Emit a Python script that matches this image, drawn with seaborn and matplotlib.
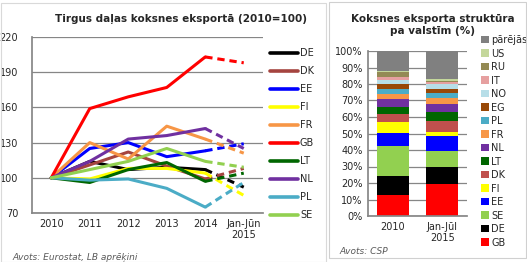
import pandas as pd
import matplotlib
matplotlib.use("Agg")
import matplotlib.pyplot as plt
from matplotlib.patches import Rectangle
import seaborn as sns

# --- data: market share index (2010=100)
periods = ["2010", "2011", "2012", "2013", "2014", "Jan-Jūn\n2015"]
countries = ["DE", "DK", "EE", "FI", "FR", "GB", "LT", "NL", "PL", "SE"]
de = [100, 114, 107, 109, 107, 92]
dk = [100, 111, 122, 110, 99, 108]
ee = [100, 125, 130, 118, 123, 129]
fi = [100, 99, 108, 108, 104, 85]
fr = [100, 130, 116, 144, 133, 121]
gb = [100, 159, 169, 177, 203, 198]
lt = [100, 96, 107, 113, 97, 104]
nl = [100, 114, 133, 136, 142, 125]
pl = [100, 98, 99, 91, 75, 96]
se = [100, 107, 114, 125, 114, 109]
series = [de, dk, ee, fi, fr, gb, lt, nl, pl, se]
line_colors = ["#000000", "#A5443F", "#0000FF", "#FFFF00", "#F79646",
               "#FF0000", "#006600", "#7030A0", "#4BACC6", "#92D050"]

# --- data: export structure by country (%)
bar_labels = ["2010", "Jan-Jūl\n2015"]
parts = ["pārējās", "US", "RU", "IT", "NO", "EG", "PL", "FR", "NL", "LT",
         "DK", "FI", "EE", "SE", "DE", "GB"]
share_2010 = [12.7, 0.3, 3.1, 2.0, 2.2, 3.0, 2.9, 3.0, 5.0, 4.1,
              5.0, 6.7, 7.7, 18.4, 11.3, 12.9]
share_2015 = [17.2, 0.8, 1.0, 1.2, 2.6, 2.9, 2.6, 3.6, 4.9, 5.4,
              6.9, 2.4, 8.9, 9.7, 10.3, 19.6]
part_colors = ["#808080", "#C4D79B", "#948A54", "#E6A0A0", "#B7DEE8", "#984807",
               "#4BACC6", "#F79646", "#7030A0", "#006600", "#C0504D", "#FFFF00",
               "#0000FF", "#92D050", "#000000", "#FF0000"]

sns.set_theme(style="white")
plt.rcParams["font.family"] = ["DejaVu Sans"]
grid_c = "#868686"

fig = plt.figure(figsize=(5.27, 2.62), dpi=100)

# panel frames
fig.patches.append(Rectangle((1 / 527, 0), 325 / 527, 1 - 3 / 262, transform=fig.transFigure,
                             fill=False, edgecolor="#D9D9D9", linewidth=0.8))
fig.patches.append(Rectangle((329 / 527, 4 / 262), 197 / 527, 1 - 6 / 262, transform=fig.transFigure,
                             fill=False, edgecolor="#D0D0D0", linewidth=0.8))

# --- left: line chart
ax1 = fig.add_axes([32 / 527, 1 - 213 / 262, 231 / 527, 176 / 262])
rows = []
for c, vals in zip(countries, series):
    for i, v in enumerate(vals):
        rows.append({"x": i, "value": v, "country": c})
df = pd.DataFrame(rows)
pal = dict(zip(countries, line_colors))

solid = df[df["x"] <= 4]
dashed = df[df["x"] >= 4]
sns.lineplot(data=solid, x="x", y="value", hue="country", hue_order=countries,
             palette=pal, linewidth=2.2, ax=ax1, sort=False)
sns.lineplot(data=dashed, x="x", y="value", hue="country", hue_order=countries,
             palette=pal, linewidth=2.2, ax=ax1, legend=False,
             dashes=False, linestyle=(0, (2.4, 1.6)), sort=False)

ax1.set_xlim(-0.5, 5.5)
ax1.set_ylim(70, 220)
ax1.set_yticks(range(70, 221, 30))
ax1.set_xticks(range(len(periods)))
ax1.set_xticklabels(periods)
ax1.tick_params(labelsize=7, length=0, pad=4)
ax1.yaxis.grid(True, color=grid_c, linewidth=0.9)
for s in ["top", "right"]:
    ax1.spines[s].set_visible(False)
for s in ["left", "bottom"]:
    ax1.spines[s].set_color(grid_c)
ax1.set_xlabel("")
ax1.set_ylabel("")
ax1.yaxis.set_tick_params(pad=10)
sns.move_legend(ax1, "upper left", bbox_to_anchor=(1.0, 0.975), frameon=False, title=None,
                fontsize=7, handlelength=2.9, labelspacing=0.82, handletextpad=0.2,
                borderaxespad=0.3)
for ln in ax1.get_legend().get_lines():
    ln.set_linewidth(2.6)

fig.text(181 / 527, 1 - 19 / 262, "Tirgus daļas koksnes eksportā (2010=100)",
         ha="center", va="center", fontsize=7.5, fontweight="bold")
fig.text(12 / 527, 1 - 257 / 262, "Avots: Eurostat, LB aprēķini", ha="left", va="center",
         fontsize=6.5, style="italic", color="#595959")

# --- right: stacked bars
ax2 = fig.add_axes([368 / 527, 1 - 216 / 262, 99 / 527, 165 / 262])
brows = []
for p, a, b in zip(parts, share_2010, share_2015):
    brows.append({"x": 0, "share": a, "part": p})
    brows.append({"x": 1, "share": b, "part": p})
bdf = pd.DataFrame(brows)
sns.histplot(data=bdf, x="x", weights="share", hue="part", hue_order=parts,
             palette=dict(zip(parts, part_colors)), multiple="stack", discrete=True,
             shrink=0.65, alpha=1, linewidth=0, ax=ax2)
ax2.set_xlim(-0.5, 1.5)
ax2.set_ylim(0, 100)
ax2.set_yticks(range(0, 101, 10))
ax2.set_yticklabels([f"{v}%" for v in range(0, 101, 10)])
ax2.set_xticks([0, 1])
ax2.set_xticklabels(bar_labels)
ax2.tick_params(labelsize=7, length=0, pad=4)
ax2.yaxis.grid(True, color=grid_c, linewidth=0.9)
ax2.set_axisbelow(True)
for s in ["top", "right"]:
    ax2.spines[s].set_visible(False)
for s in ["left", "bottom"]:
    ax2.spines[s].set_color(grid_c)
ax2.set_xlabel("")
ax2.set_ylabel("")
sns.move_legend(ax2, "upper left", bbox_to_anchor=(1.1, 1.12), frameon=False, title=None,
                fontsize=7, handlelength=0.8, handleheight=0.8, labelspacing=0.36,
                handletextpad=0.3, borderaxespad=0)

fig.text(433 / 527, 1 - 25 / 262, "Koksnes eksporta struktūra\npa valstīm (%)",
         ha="center", va="center", fontsize=7.5, fontweight="bold", linespacing=1.3)
fig.text(339 / 527, 1 - 252 / 262, "Avots: CSP", ha="left", va="center",
         fontsize=6.5, style="italic", color="#595959")

fig.savefig("out.png", dpi=100)
